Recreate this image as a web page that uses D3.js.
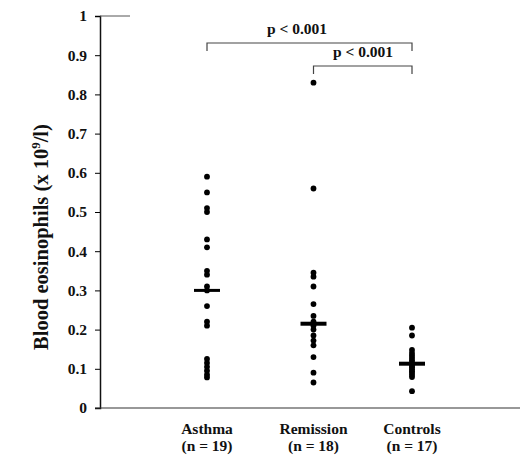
<!DOCTYPE html>
<html>
<head>
<meta charset="utf-8">
<script src="https://cdn.jsdelivr.net/npm/d3@7"></script>
<style>
	body { margin: 0; background: #fff; }
	text { font-family: "Liberation Serif", "Times New Roman", serif; font-weight: bold; }
</style>
</head>
<body>
<div id="chart"></div>
<script>
// groups and labels
const groups = ["Asthma", "Remission", "Controls"];
const group_n = ["(n = 19)", "(n = 18)", "(n = 17)"];

// blood eosinophils (x 10^9/l)
const asthma = [0.59, 0.55, 0.51, 0.50, 0.43, 0.41, 0.35, 0.34, 0.31, 0.30,
	0.26, 0.22, 0.21, 0.125, 0.115, 0.105, 0.095, 0.085, 0.078];
const remission = [0.83, 0.56, 0.345, 0.335, 0.31, 0.265, 0.235, 0.22, 0.215,
	0.215, 0.21, 0.20, 0.185, 0.172, 0.16, 0.13, 0.09, 0.065];
const controls = [0.205, 0.185, 0.148, 0.14, 0.134, 0.128, 0.122, 0.116, 0.112,
	0.108, 0.104, 0.099, 0.094, 0.089, 0.084, 0.079, 0.043];
const medians = [0.30, 0.215, 0.113];

const y_ticks = [0, 0.1, 0.2, 0.3, 0.4, 0.5, 0.6, 0.7, 0.8, 0.9, 1];
const tick_labels = ["0", "0.1", "0.2", "0.3", "0.4", "0.5", "0.6", "0.7", "0.8", "0.9", "1"];

// significance brackets: [from group, to group, label]
const brackets = [
	["Asthma", "Controls", "p < 0.001"],
	["Remission", "Controls", "p < 0.001"],
];

const width = 525;
const height = 455;
const margin = { top: 16, right: 5, bottom: 47, left: 100 };

const svg = d3
	.select("#chart")
	.append("svg")
	.attr("width", width)
	.attr("height", height);

const y = d3
	.scaleLinear()
	.domain([0, 1])
	.range([height - margin.bottom, margin.top]);

const x = d3
	.scalePoint()
	.domain(groups)
	.range([207, 412]);

const series = [asthma, remission, controls];
// nudge for the middle group, which sits a bit right of centre in the original
const x_pos = (g) => x(g) + (g === "Remission" ? 4 : 0);

// y axis
const y_axis = svg
	.append("g")
	.attr("transform", `translate(${margin.left}, 0)`)
	.call(
		d3.axisLeft(y)
			.tickValues(y_ticks)
			.tickFormat((d, i) => tick_labels[i])
			.tickSize(5)
			.tickPadding(8)
	);
y_axis.select(".domain").attr("stroke", "#111").attr("stroke-width", 1.5);
y_axis.selectAll("text").attr("font-size", "15.5px").attr("fill", "#111");

// short top stub
svg.append("line")
	.attr("x1", margin.left)
	.attr("x2", margin.left + 30)
	.attr("y1", y(1))
	.attr("y2", y(1))
	.attr("stroke", "#555")
	.attr("stroke-width", 1);

// x axis
svg.append("line")
	.attr("x1", margin.left - 5)
	.attr("x2", width - margin.right)
	.attr("y1", y(0))
	.attr("y2", y(0))
	.attr("stroke", "#333")
	.attr("stroke-width", 1.2);

// category labels
groups.forEach((g, i) => {
	svg.append("text")
		.attr("x", x_pos(g))
		.attr("y", y(0) + 26)
		.attr("text-anchor", "middle")
		.attr("font-size", "15.5px")
		.attr("fill", "#111")
		.text(g);
	svg.append("text")
		.attr("x", x_pos(g))
		.attr("y", y(0) + 43)
		.attr("text-anchor", "middle")
		.attr("font-size", "15.5px")
		.attr("fill", "#111")
		.text(group_n[i]);
});

// y label
const ylab = svg
	.append("text")
	.attr("transform", `translate(48, ${(y(0) + y(1)) / 2 + 25}) rotate(-90)`)
	.attr("text-anchor", "middle")
	.attr("font-size", "20.5px")
	.attr("fill", "#111");
ylab.append("tspan").text("Blood eosinophils (x 10");
ylab.append("tspan").attr("dy", -8).attr("font-size", "13px").text("9");
ylab.append("tspan").attr("dy", 8).text("/l)");

// dots
groups.forEach((g, i) => {
	svg.append("g")
		.selectAll("circle")
		.data(series[i])
		.join("circle")
		.attr("cx", x_pos(g))
		.attr("cy", (d) => y(d))
		.attr("r", 2.9)
		.attr("fill", "#000");
});

// median bars
svg.append("g")
	.selectAll("line")
	.data(groups)
	.join("line")
	.attr("x1", (g) => x_pos(g) - 13)
	.attr("x2", (g) => x_pos(g) + 13)
	.attr("y1", (g, i) => y(medians[i]))
	.attr("y2", (g, i) => y(medians[i]))
	.attr("stroke", "#000")
	.attr("stroke-width", (g, i) => (i === 0 ? 3 : 4));

// brackets
const bracket_y = [43, 66];
brackets.forEach((b, i) => {
	const x1 = x_pos(b[0]);
	const x2 = x_pos(b[1]);
	const by = bracket_y[i];
	svg.append("path")
		.attr("d", `M${x1},${by + 8}V${by}H${x2}V${by + 8}`)
		.attr("fill", "none")
		.attr("stroke", "#444")
		.attr("stroke-width", 1.2);
	svg.append("text")
		.attr("x", i === 0 ? 297 : 363)
		.attr("y", by - 9)
		.attr("text-anchor", "middle")
		.attr("font-size", "15.5px")
		.attr("fill", "#111")
		.text(b[2]);
});
</script>
</body>
</html>
